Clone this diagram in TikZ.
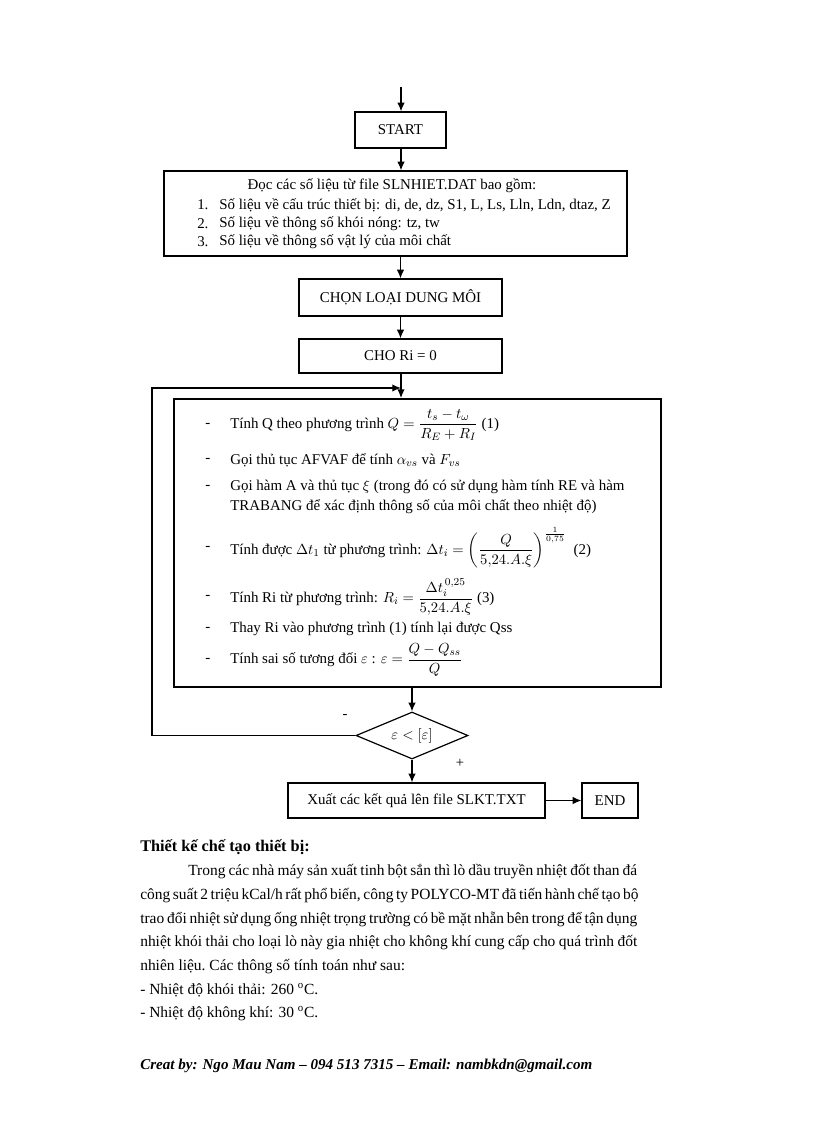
\documentclass[tikz,border=0pt]{standalone}
\usepackage{amsmath}
\usepackage{fontspec}
\setmainfont{Liberation Serif}
\usetikzlibrary{arrows.meta,shapes.geometric,calc}
\begin{document}
\begin{tikzpicture}[x=0.75pt,y=-0.75pt,
  box/.style={draw,line width=0.9pt,inner sep=0pt,font=\fontsize{11.2}{13}\selectfont},
  arr/.style={-{Latex[length=6.5pt,width=5.5pt]},line width=0.9pt},
  ln/.style={anchor=west,inner sep=0pt,font=\fontsize{11.2}{13}\selectfont},
  para/.style={anchor=west,inner sep=0pt,font=\fontsize{11.6}{14}\selectfont},
  lbl/.style={inner sep=0pt,font=\fontsize{11}{13}\selectfont}
]
\fill[white] (0,0) rectangle (816,1123);
\useasboundingbox (0,0) rectangle (816,1123);

% boxes
\coordinate (entry) at (401,87);
\node[box,minimum width=68.25pt,minimum height=27pt] (start) at (400.5,130) {START};
\node[box,minimum width=347.25pt,minimum height=63.75pt] (read) at (395.5,213.5) {};
\node[box,minimum width=152.25pt,minimum height=27.75pt] (choose) at (400.5,297.5) {CHỌN LOẠI DUNG MÔI};
\node[box,minimum width=152.25pt,minimum height=25.5pt] (init) at (400.5,356) {CHO Ri = 0};
\node[box,line width=1.4pt,minimum width=365.25pt,minimum height=216pt] (calc) at (417.5,543) {};
\node[box,shape=diamond,shape aspect=2.4,minimum width=84pt,minimum height=35.25pt] (test) at (412,735.5) {$\varepsilon<\left[\varepsilon\right]$};
\node[box,minimum width=192.75pt,minimum height=26.25pt] (out) at (416.5,800.5) {Xuất các kết quả lên file SLKT.TXT};
\node[box,minimum width=42pt,minimum height=26.25pt] (end) at (610,800.5) {END};

% read box text
\node[ln,anchor=center] (r0) at (392,186) {Đọc các số liệu từ file SLNHIET.DAT bao gồm:};
\node[ln] (r1n) at (197,205) {1.};
\node[ln] (r1) at (219,205) {Số liệu về cấu trúc thiết bị: di, de, dz, S1, L, Ls, Lln, Ldn, dtaz, Z};
\node[ln] (r2n) at (197,224) {2.};
\node[ln] (r2) at (219,224) {Số liệu về thông số khói nóng: tz, tw};
\node[ln] (r3n) at (197,242) {3.};
\node[ln] (r3) at (219,242) {Số liệu về thông số vật lý của môi chất};

% calc box text
\node[ln] (d1) at (205,425) {-};
\node[ln] (c1) at (230,425) {Tính Q theo phương trình $Q=\dfrac{t_s-t_\omega}{R_E+R_I}$\ (1)};
\node[ln] (d2) at (205,460) {-};
\node[ln] (c2) at (230,460) {Gọi thủ tục AFVAF để tính $\alpha_{vs}$ và $F_{vs}$};
\node[ln] (d3) at (205,487) {-};
\node[ln] (c3) at (230,487) {Gọi hàm A và thủ tục $\xi$ (trong đó có sử dụng hàm tính RE và hàm};
\node[ln] (c4) at (230,507) {TRABANG để xác định thông số của môi chất theo nhiệt độ)};
\node[ln] (d5) at (205,548) {-};
\node[ln] (c5) at (230,548) {Tính được $\Delta t_1$ từ phương trình: $\Delta t_i=\left(\dfrac{Q}{5{,}24.A.\xi}\right)^{\frac{1}{0{,}75}}$\ \ (2)};
\node[ln] (d6) at (205,597) {-};
\node[ln] (c6) at (230,597) {Tính Ri từ phương trình: $R_i=\dfrac{\Delta t_i^{\,0{,}25}}{5{,}24.A.\xi}$\ (3)};
\node[ln] (d7) at (205,629) {-};
\node[ln] (c7) at (230,629) {Thay Ri vào phương trình (1) tính lại được Qss};
\node[ln] (d8) at (205,660) {-};
\node[ln] (c8) at (230,660) {Tính sai số tương đối $\varepsilon$ : $\varepsilon=\dfrac{Q-Q_{ss}}{Q}$};

% connectors
\coordinate (loopend) at (401,388);
\coordinate (loopx) at (152,0);
\draw[arr] (entry) -- (entry |- start.north);
\draw[arr] (start.south -| entry) -- (entry |- read.north);
\draw[arr] (choose.north |- read.south) -- (choose.north);
\draw[arr] (choose) -- (init);
\draw[arr] (init.south -| loopend) -- (loopend |- calc.north);
\draw[arr] (test.north |- calc.south) -- (test.north);
\draw[arr] (test.west) -- (test.west -| loopx) |- (loopend);
\draw[arr] (test.south) -- (test.south |- out.north);
\draw[arr] (out) -- (end);
\node[lbl] (minus) at (345,716) {-};
\node[lbl] (plus) at (460,763) {+};

% body text
\node[para,font=\fontsize{12.2}{14}\selectfont\bfseries] (head) at (140,847) {Thiết kế chế tạo thiết bị:};
\node[para] (p1) at (188,872) {\makebox[336.75pt][s]{Trong các nhà máy sản xuất tinh bột sắn thì lò dầu truyền nhiệt đốt than đá}};
\node[para] (p2) at (140,896) {\makebox[372.75pt][s]{công suất 2 triệu kCal/h rất phổ biến, công ty POLYCO-MT đã tiến hành chế tạo bộ}};
\node[para] (p3) at (140,919.5) {\makebox[372.75pt][s]{trao đổi nhiệt sử dụng ống nhiệt trọng trường có bề mặt nhẵn bên trong để tận dụng}};
\node[para] (p4) at (140,943) {\makebox[372.75pt][s]{nhiệt khói thải cho loại lò này gia nhiệt cho không khí cung cấp cho quá trình đốt}};
\node[para] (p5) at (140,967) {nhiên liệu.\ Các thông số tính toán như sau:};
\node[para] (p6) at (140,990.5) {- Nhiệt độ khói thải: 260 \textsuperscript{o}C.};
\node[para] (p7) at (140,1014) {- Nhiệt độ không khí: 30 \textsuperscript{o}C.};
\node[para,font=\fontsize{11.3}{13}\selectfont\bfseries\itshape] (foot) at (140,1066) {Creat by: Ngo Mau Nam – 094 513 7315 – Email: nambkdn@gmail.com};
\end{tikzpicture}
\end{document}
